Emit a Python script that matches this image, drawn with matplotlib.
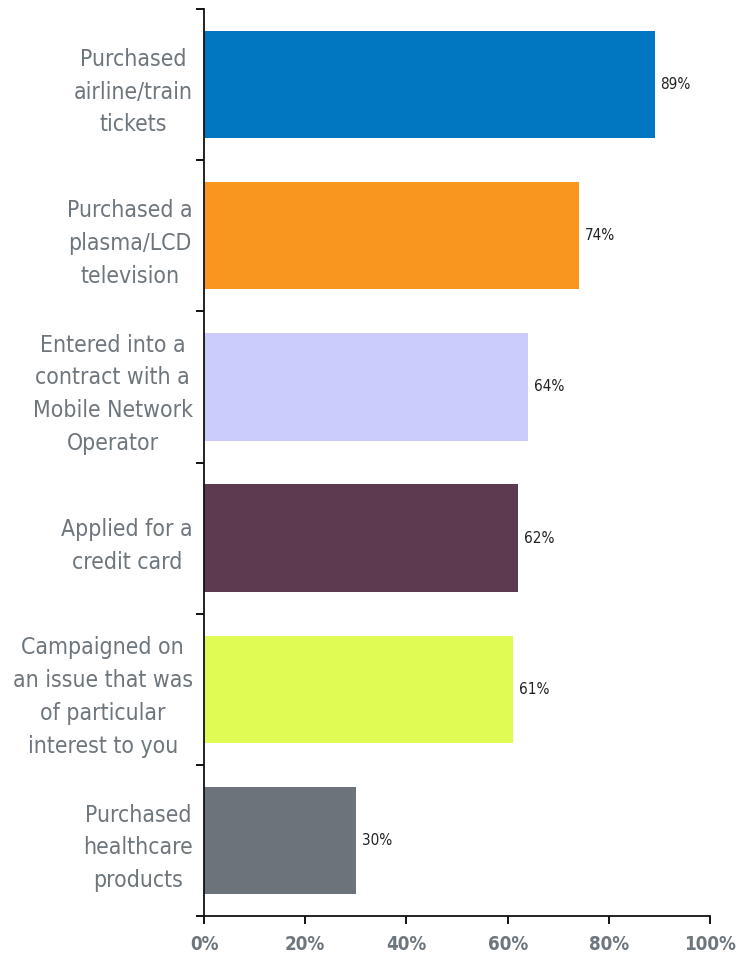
import numpy as np
import matplotlib
matplotlib.use("Agg")
import matplotlib.pyplot as plt
from matplotlib.ticker import FixedLocator, PercentFormatter

categories = [
    "Purchased\nairline/train\ntickets",
    "Purchased a\nplasma/LCD\ntelevision",
    "Entered into a\ncontract with a\nMobile Network\nOperator",
    "Applied for a\ncredit card",
    "Campaigned on\nan issue that was\nof particular\ninterest to you",
    "Purchased\nhealthcare\nproducts",
]
values = [89, 74, 64, 62, 61, 30]
colors = ["#0077C0", "#F7971F", "#CCCCFC", "#5E3A51", "#E1FB55", "#6C737A"]
xticks = [0, 20, 40, 60, 80, 100]

narrow = ["Liberation Sans Narrow", "DejaVu Sans"]
grey = "#6E767D"

fig = plt.figure(figsize=(7.4, 9.56), dpi=100)
ax = fig.add_axes([0.2757, 0.0418, 0.684, 0.9488])

n = len(categories)
ypos = np.arange(n)
ax.barh(ypos, values, height=0.71, color=colors, zorder=2)
ax.set_ylim(n - 0.5, -0.5)
ax.set_xlim(0, 100)

# value labels to the right of each bar
for y, v in zip(ypos, values):
    ax.text(v + 1.2, y, f"{v}%", va="center", ha="left", fontsize=11,
            color="#222222", family=narrow, fontstretch="condensed")

# boundary ticks between categories, labels on the centres
ax.yaxis.set_major_locator(FixedLocator(np.arange(-0.5, n, 1.0)))
ax.yaxis.set_major_formatter(plt.NullFormatter())
ax.yaxis.set_minor_locator(FixedLocator(ypos))
ax.set_yticklabels(categories, minor=True, fontsize=16.5, color=grey,
                   family=narrow, fontstretch="condensed",
                   multialignment="center", linespacing=1.55)
ax.tick_params(axis="y", which="major", length=6, width=1.3, direction="out")
ax.tick_params(axis="y", which="minor", length=0, pad=8)

ax.set_xticks(xticks)
ax.xaxis.set_major_formatter(PercentFormatter(decimals=0))
ax.tick_params(axis="x", length=6, width=1.3, direction="out", pad=8,
               labelsize=13.5, labelcolor=grey)
for lab in ax.get_xticklabels():
    lab.set_fontweight("bold")
    lab.set_fontstretch("condensed")

for side in ("top", "right"):
    ax.spines[side].set_visible(False)
for side in ("left", "bottom"):
    ax.spines[side].set_linewidth(1.3)
    ax.spines[side].set_color("#111111")

fig.savefig("out.png", dpi=100)
